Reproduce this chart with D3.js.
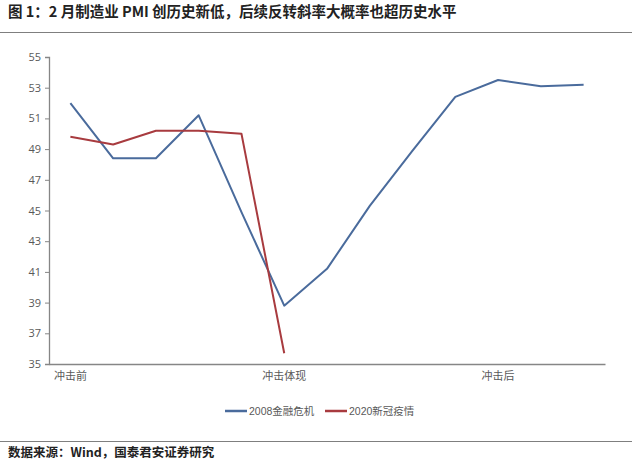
<!DOCTYPE html>
<html><head><meta charset="utf-8">
<script src="https://cdn.jsdelivr.net/npm/d3@7"></script>
<style>
html,body{margin:0;padding:0;background:#fff;}
svg{display:block;}
</style></head>
<body>
<svg id="c" width="640" height="464"></svg>
<script>
const title = "图 1：2 月制造业 PMI 创历史新低，后续反转斜率大概率也超历史水平";
const source = "数据来源：Wind，国泰君安证券研究";
const categories = ["P0","P1","P2","P3","P4","P5","P6","P7","P8","P9","P10","P11","P12"];
const categoryLabels = ["冲击前","","","","","冲击体现","","","","","冲击后","",""];
const series2008 = [52.0,48.4,48.4,51.2,44.9,38.8,41.2,45.3,48.9,52.4,53.5,53.1,53.2];
const series2020 = [49.8,49.3,50.2,50.2,50.0,35.7];
const seriesNames = ["2008金融危机","2020新冠疫情"];
const seriesColors = ["#4a6b9c","#a83b3f"];
const yTicks = [35,37,39,41,43,45,47,49,51,53,55];

const svg = d3.select("#c");
const plotLeft = 49, plotRight = 605, plotTop = 57, plotBottom = 364;

const x = d3.scaleBand().domain(categories).range([plotLeft, plotRight]).padding(0);
const y = d3.scaleLinear().domain([35,55]).range([plotBottom, plotTop]);
const cx = c => x(c) + x.bandwidth()/2;

// title
svg.append("text").attr("x", 8).attr("y", 17)
  .attr("font-family", "'Noto Sans CJK SC', sans-serif").attr("font-weight", "bold")
  .attr("font-size", 14.5).attr("fill", "#222").text(title);
svg.append("line").attr("x1", 0).attr("x2", 632).attr("y1", 32.5).attr("y2", 32.5)
  .attr("stroke", "#7f7f7f").attr("stroke-width", 1.2);

// y axis
const yAxis = d3.axisLeft(y).tickValues(yTicks).tickSize(4).tickPadding(4).tickFormat(d3.format("d"));
const gy = svg.append("g").attr("transform", `translate(${plotLeft},0)`).call(yAxis);
gy.select(".domain").attr("stroke", "#868686").attr("stroke-width", 1.3);
gy.selectAll(".tick line").attr("stroke", "#868686");
gy.selectAll(".tick text").attr("fill", "#595959").attr("font-size", 11)
  .attr("font-family", "'Open Sans', 'Liberation Sans', sans-serif");

// x axis
const xAxis = d3.axisBottom(x).tickSize(0).tickPadding(8)
  .tickFormat((d,i) => categoryLabels[i]);
const gx = svg.append("g").attr("transform", `translate(0,${plotBottom})`).call(xAxis);
gx.select(".domain").attr("stroke", "#868686").attr("stroke-width", 1.5);
gx.selectAll(".tick text").attr("fill", "#595959").attr("font-size", 11)
  .attr("font-family", "'Noto Sans CJK SC', sans-serif");

// lines
const line = d3.line().x((d,i) => cx(categories[i])).y(d => y(d));
svg.append("path").datum(series2008).attr("d", line).attr("fill","none")
  .attr("stroke", seriesColors[0]).attr("stroke-width", 2).attr("stroke-linejoin","round");
svg.append("path").datum(series2020).attr("d", line).attr("fill","none")
  .attr("stroke", seriesColors[1]).attr("stroke-width", 2).attr("stroke-linejoin","round");

// legend
const legendX = [225, 325];
seriesNames.forEach((n,i) => {
  const g = svg.append("g").attr("transform", `translate(${legendX[i]},411)`);
  g.append("line").attr("x1",0).attr("x2",22).attr("y1",0).attr("y2",0)
    .attr("stroke", seriesColors[i]).attr("stroke-width", 2.5);
  g.append("text").attr("x", 24).attr("y", 4).attr("font-size", 10.5).attr("fill","#595959")
    .attr("font-family", "'Liberation Sans', 'Noto Sans CJK SC', sans-serif").text(n);
});

// source
svg.append("line").attr("x1", 0).attr("x2", 632).attr("y1", 441.5).attr("y2", 441.5)
  .attr("stroke", "#7f7f7f").attr("stroke-width", 1.2);
svg.append("text").attr("x", 8).attr("y", 457)
  .attr("font-family", "'Noto Sans CJK SC', sans-serif").attr("font-weight", "bold")
  .attr("font-size", 12.5).attr("fill", "#222").text(source);
</script>
</body></html>
